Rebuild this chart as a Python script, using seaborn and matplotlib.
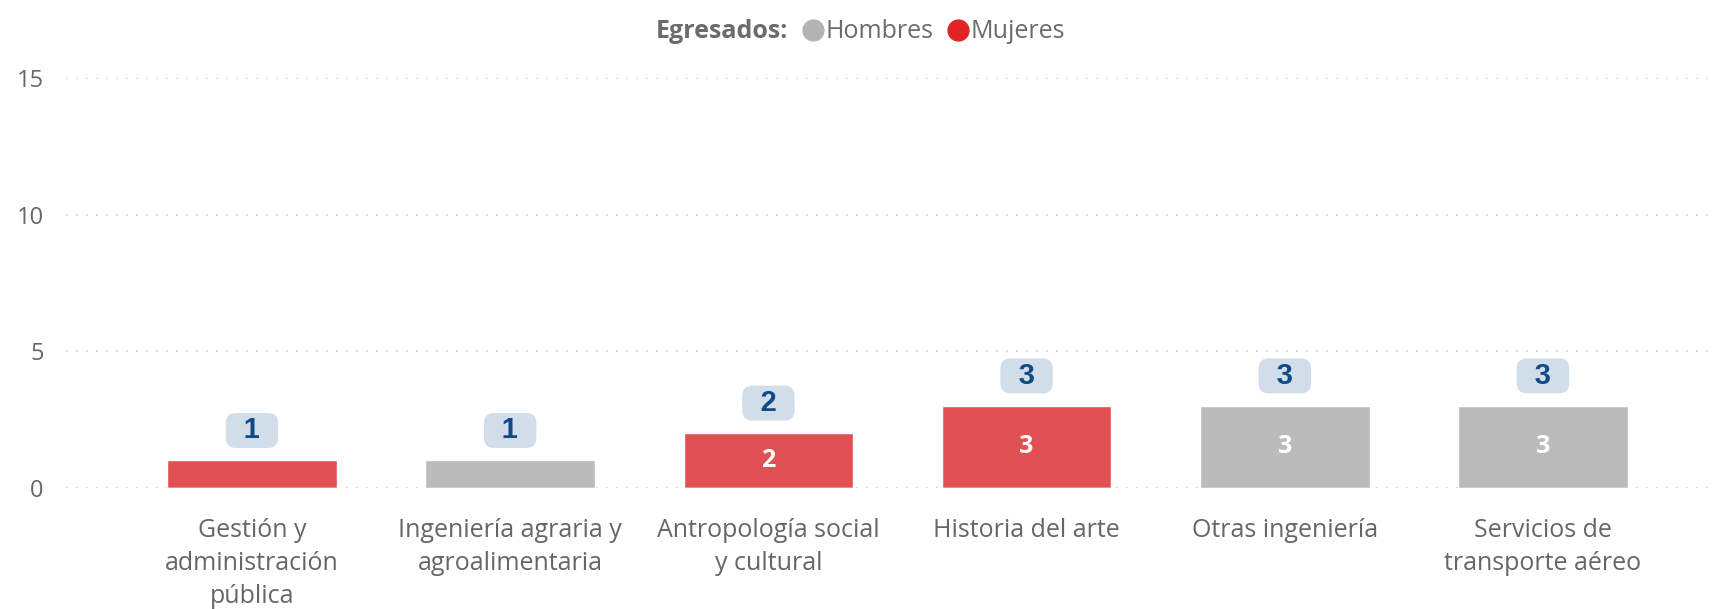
import numpy as np
import pandas as pd
import matplotlib
matplotlib.use("Agg")
import matplotlib.pyplot as plt
from matplotlib.lines import Line2D
import seaborn as sns

# data
categorias = ["Gestión y\nadministración\npública",
              "Ingeniería agraria y\nagroalimentaria",
              "Antropología social\ny cultural",
              "Historia del arte",
              "Otras ingeniería",
              "Servicios de\ntransporte aéreo"]
hombres = [0, 1, 0, 0, 3, 3]
mujeres = [1, 0, 2, 3, 0, 0]

ROJO = "#E15052"
GRIS = "#BBBBBB"
TXT = "#666666"

sns.set_theme(style="white")
plt.rcParams["font.family"] = ["Open Sans", "DejaVu Sans"]

df = pd.DataFrame({"cat": categorias, "H": hombres, "M": mujeres})
df["total"] = df["H"] + df["M"]

fig = plt.figure(figsize=(17.16, 6.09), dpi=100)
ax = fig.add_axes([0.0385, 0.199, 0.9615, 0.673])

# stacked: total in red, hombres (bottom) in gray on top of it
sns.barplot(data=df, x="cat", y="total", color=ROJO, saturation=1, width=0.657, ax=ax)
sns.barplot(data=df, x="cat", y="H", color=GRIS, saturation=1, width=0.657, ax=ax)

ax.set_ylim(0, 15)
ax.set_xlim(-0.72, 5.67)
ax.set_yticks([0, 5, 10, 15])
ax.set_xlabel("")
ax.set_ylabel("")
for s in ax.spines.values():
    s.set_visible(False)
ax.grid(axis="y", color="#C8C8C8", linestyle=(0, (1, 5)), linewidth=1.2)
ax.set_axisbelow(True)
ax.tick_params(axis="y", length=0, pad=16, labelsize=17, labelcolor=TXT)
ax.tick_params(axis="x", length=0, pad=22, labelsize=18, labelcolor=TXT)
for t in ax.get_xticklabels():
    t.set_linespacing(1.42)

# segment labels (only where the segment is tall enough)
for i, row in df.iterrows():
    for base, val in ((0, row["H"]), (row["H"], row["M"])):
        if val >= 2:
            ax.text(i, base + val / 2, str(val), ha="center", va="center",
                    color="white", fontsize=18, fontweight="bold")
    ax.annotate("\u2002" + str(row["total"]) + "\u2002", xy=(i, row["total"]),
                xytext=(0, 30), textcoords="offset pixels", ha="center", va="center",
                fontsize=21, fontweight="bold", color="#114A84",
                family=["Liberation Sans", "DejaVu Sans"],
                bbox=dict(boxstyle="round,pad=0.12,rounding_size=0.35",
                          fc="#D1DDE8", ec="none"))

# legend at the top
fig.text(788 / 1716, 1 - 32 / 609, "Egresados:", ha="right", va="center",
         fontsize=18, fontweight="bold", color="#6B6B6B")
handles = [Line2D([], [], marker="o", ls="", markersize=15, color="#B3B3B3"),
           Line2D([], [], marker="o", ls="", markersize=15, color="#E02424")]
fig.legend(handles, ["Hombres", "Mujeres"], loc="center left",
           bbox_to_anchor=(800 / 1716, 1 - 32 / 609), ncol=2, frameon=False,
           fontsize=18, labelcolor="#6B6B6B", handletextpad=0.0,
           columnspacing=0.5, handlelength=1.0, borderpad=0, borderaxespad=0)

fig.savefig("out.png", dpi=100)
